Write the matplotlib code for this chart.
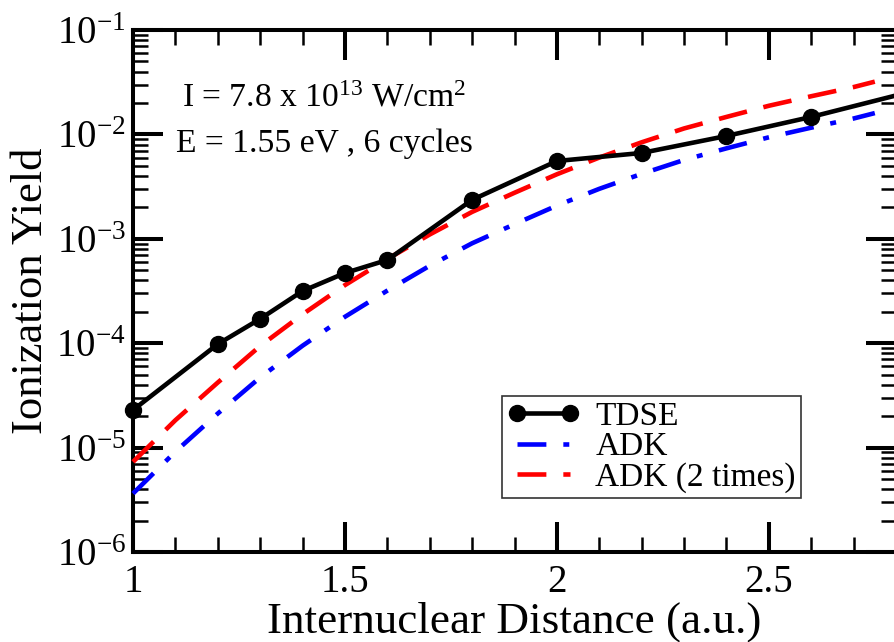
import matplotlib
matplotlib.use('Agg')
import matplotlib.pyplot as plt
from matplotlib.ticker import FixedLocator, LogLocator, NullFormatter

plt.rcParams['font.family'] = ['Liberation Serif', 'DejaVu Serif']
plt.rcParams['mathtext.fontset'] = 'custom'
plt.rcParams['mathtext.rm'] = 'Liberation Serif'
plt.rcParams['mathtext.it'] = 'Liberation Serif:italic'

# TDSE points
tdse_x = [1.0, 1.2, 1.3, 1.4, 1.5, 1.6, 1.8, 2.0, 2.2, 2.4, 2.6, 2.8]
tdse_y = [2.29e-5, 9.8e-5, 1.71e-4, 3.16e-4, 4.7e-4, 6.27e-4, 2.36e-3,
          5.56e-3, 6.64e-3, 9.66e-3, 1.47e-2, 2.36e-2]

# ADK curves
adk_x = [1.0, 1.1, 1.2, 1.3, 1.4, 1.5, 1.6, 1.7, 1.8, 1.9, 2.0,
         2.1, 2.2, 2.3, 2.4, 2.5, 2.6, 2.7, 2.75]
adk_y = [3.63e-6, 9.14e-6, 2.12e-5, 4.70e-5, 9.46e-5, 1.79e-4, 3.19e-4,
         5.52e-4, 9.06e-4, 1.38e-3, 2.08e-3, 3.01e-3, 4.19e-3, 5.69e-3,
         7.35e-3, 9.38e-3, 1.16e-2, 1.42e-2, 1.60e-2]
adk2_y = [7.3e-6, 1.83e-5, 4.2e-5, 9.4e-5, 1.89e-4, 3.6e-4, 6.4e-4,
          1.10e-3, 1.81e-3, 2.76e-3, 4.15e-3, 6.0e-3, 8.4e-3, 1.14e-2,
          1.47e-2, 1.88e-2, 2.32e-2, 2.84e-2, 3.2e-2]

fig = plt.figure(figsize=(8.94, 6.42), dpi=100)
ax = fig.add_axes([133/894, 90/642, 763/894, 522/642])

ax.plot(tdse_x, tdse_y, color='black', lw=3.3, marker='o', ms=11.5,
        markevery=list(range(11)), label='TDSE', zorder=4, clip_on=False)
ax.plot(adk_x, adk_y, color='blue', lw=3.3, dashes=(6.3, 3.7, 1.3, 3.7),
        label='ADK', zorder=3, clip_on=False)
ax.plot(adk_x, adk2_y, color='red', lw=3.3, dashes=(6.3, 3.7),
        label='ADK (2 times)', zorder=3, clip_on=False)

ax.set_yscale('log')
ax.set_xlim(1, 2.8)
ax.set_ylim(1e-6, 1e-1)

ax.xaxis.set_major_locator(FixedLocator([1, 1.5, 2, 2.5]))
ax.xaxis.set_minor_locator(FixedLocator([1.1, 1.2, 1.3, 1.4, 1.6, 1.7, 1.8, 1.9,
                                         2.1, 2.2, 2.3, 2.4, 2.6, 2.7]))
ax.set_xticklabels(['1', '1.5', '2', '2.5'])
ax.yaxis.set_major_locator(FixedLocator([1e-6, 1e-5, 1e-4, 1e-3, 1e-2, 1e-1]))
ax.set_yticklabels([r'$10^{-6}$', r'$10^{-5}$', r'$10^{-4}$',
                    r'$10^{-3}$', r'$10^{-2}$', r'$10^{-1}$'])
ax.yaxis.set_minor_locator(LogLocator(base=10, subs=range(2, 10)))
ax.yaxis.set_minor_formatter(NullFormatter())

ax.tick_params(which='both', direction='in', top=True, right=True)
ax.tick_params(which='major', length=21.6, width=2.9, labelsize=28)
ax.tick_params(which='minor', length=10.8, width=1.8)
ax.tick_params(axis='x', which='major', pad=9)
ax.tick_params(axis='y', which='major', pad=5)
for s in ax.spines.values():
    s.set_linewidth(2.9)

ax.set_xlabel('Internuclear Distance (a.u.)', fontsize=32.5, labelpad=0)
ax.set_ylabel('Ionization Yield', fontsize=32, labelpad=4)

ax.text(0.064, 0.854, r'I = 7.8 x 10$^{13}$ W/cm$^{2}$', transform=ax.transAxes,
        fontsize=24.2, va='baseline')
ax.text(0.056, 0.766, 'E = 1.55 eV , 6 cycles', transform=ax.transAxes,
        fontsize=24.2, va='baseline')

leg = ax.legend(loc='lower right', bbox_to_anchor=(0.875, 0.103), borderaxespad=0,
                fontsize=24, numpoints=2, handlelength=2.2, handletextpad=0.45,
                labelspacing=0.0, borderpad=0.15, fancybox=False, framealpha=1)
leg.get_frame().set_edgecolor('#333333')
leg.get_frame().set_linewidth(1.2)

fig.savefig('out.png', dpi=100)
